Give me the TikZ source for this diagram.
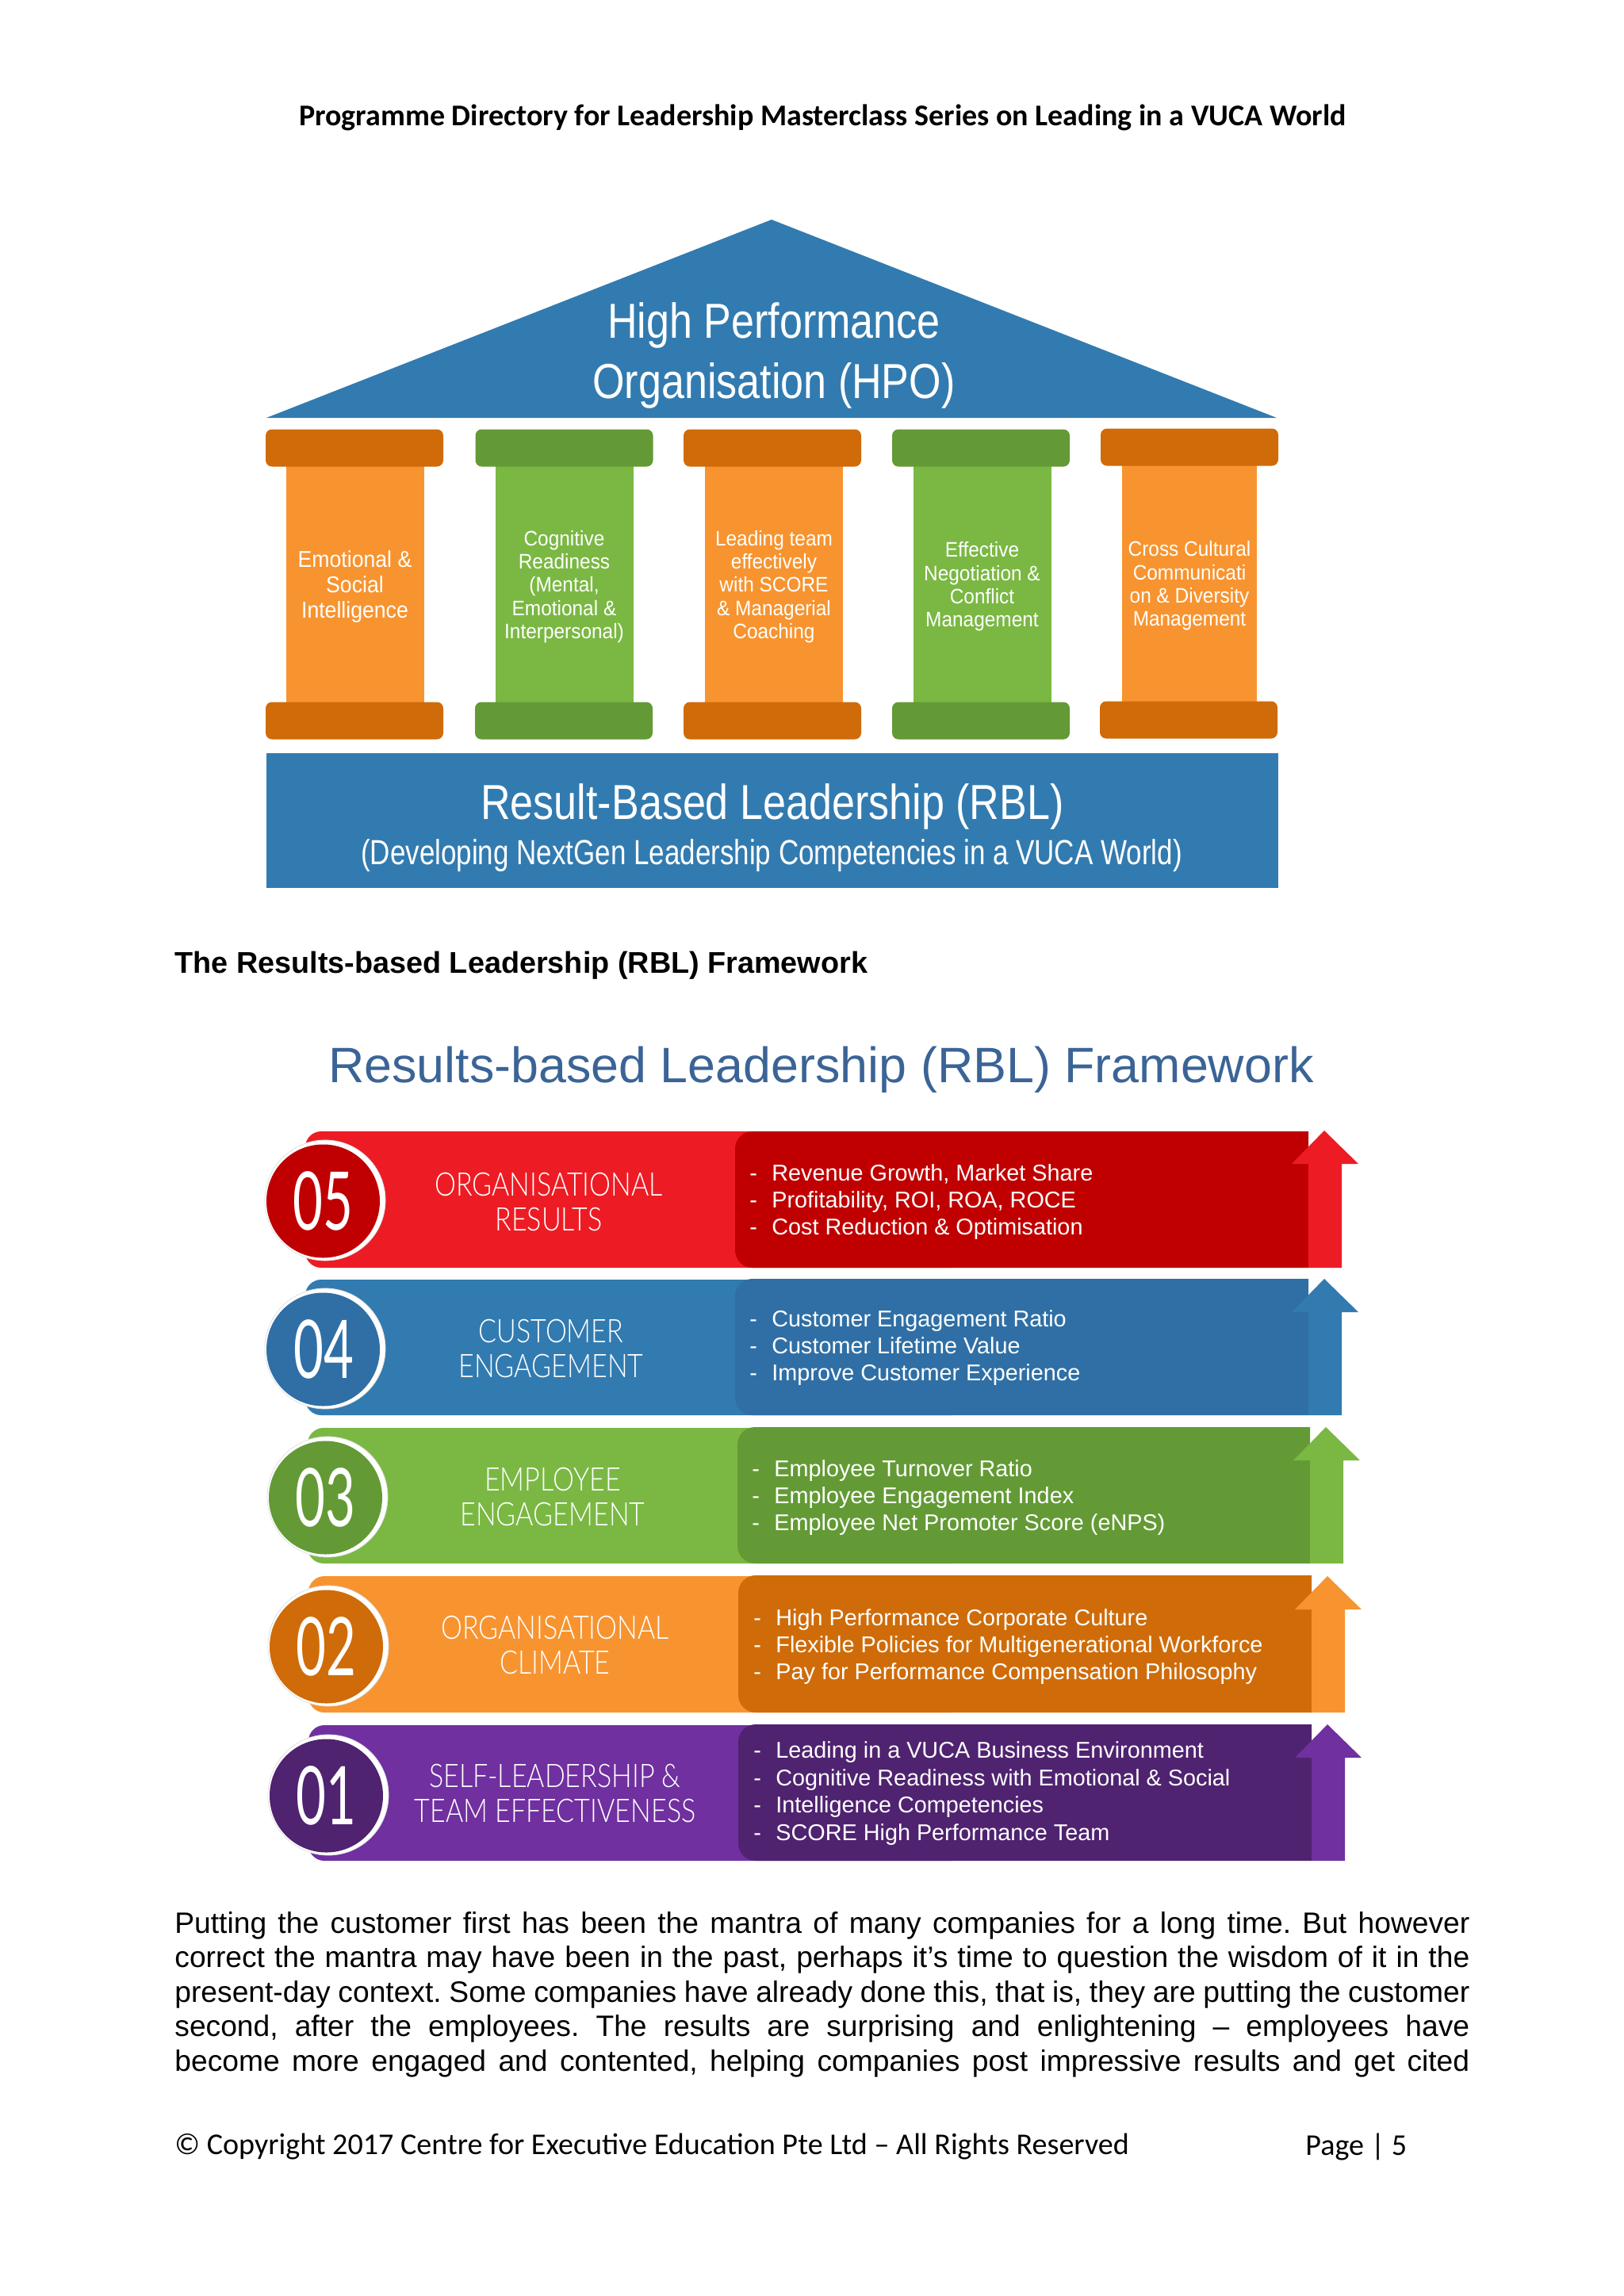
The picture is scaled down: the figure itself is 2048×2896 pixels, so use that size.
\documentclass[tikz,border=0pt]{standalone}
\usepackage{fontspec}
\setmainfont{Liberation Sans}
\newfontfamily\headfont{Carlito}
\newfontfamily\tallfont[FakeStretch=0.84]{Liberation Sans}
\newfontfamily\subfont[FakeStretch=0.795]{Liberation Sans}
\newfontfamily\pillarfont[FakeStretch=0.925]{Liberation Sans}
\newfontfamily\bandfont[FakeStretch=0.83]{Lato Light}
\newfontfamily\numfont[FakeStretch=0.64]{Lato}
\definecolor{roofblue}{HTML}{327BB0}
\definecolor{panelblue}{HTML}{2F6FA5}
\definecolor{oranged}{HTML}{F79430}
\definecolor{orangedark}{HTML}{CF6C09}
\definecolor{greenl}{HTML}{7AB843}
\definecolor{greendark}{HTML}{639A35}
\definecolor{redl}{HTML}{ED1C24}
\definecolor{reddark}{HTML}{C00000}
\definecolor{purplel}{HTML}{7030A0}
\definecolor{purpledark}{HTML}{4F2370}
\definecolor{titleblue}{HTML}{3B6496}
\newcommand{\itemrow}[1]{\makebox[14pt][l]{-}#1}
\tikzset{
  capbox/.style={rectangle,rounded corners=4pt,inner sep=0pt,minimum width=112pt,minimum height=23.5pt},
  shaftbox/.style={rectangle,inner sep=0pt,minimum width=87pt,minimum height=152pt,text=white,align=center,
    font=\pillarfont\fontsize{13.2}{14.7}\selectfont},
  labeltext/.style={text=white,align=center,font=\bandfont\fontsize{20.5}{22}\selectfont},
  numtext/.style={text=white,font=\numfont\fontsize{51}{51}\selectfont},
  itemtext/.style={text=white,align=left,anchor=west,inner sep=0pt,font=\fontsize{14.4}{17.2}\selectfont},
  ringdisc/.style={circle,fill=white,draw=black!12,line width=0.4pt,minimum size=76pt,inner sep=0pt},
  numdisc/.style={circle,inner sep=0pt,minimum size=71.5pt}
}
\begin{document}
\begin{tikzpicture}[x=0.5pt,y=-0.5pt]
  \path[use as bounding box] (0,0) rectangle (2048,2896);
  \node[font=\headfont\bfseries\fontsize{19}{22}\selectfont] (header) at (1037.5,148) {Programme Directory for Leadership Masterclass Series on Leading in a VUCA World};
  % house
  \fill[roofblue] (973,277) -- (1610,527) -- (336,527) -- cycle;
  \node[text=white,align=center,font=\tallfont\fontsize{31}{38}\selectfont] (hpo) at (976,448) {High Performance\\Organisation (HPO)};
  \node[shaftbox,fill=oranged,font=\pillarfont\fontsize{14.4}{16}\selectfont] (shafta) at (447.5,740) {Emotional \&\\Social\\Intelligence};
  \node[shaftbox,fill=greenl] (shaftb) at (711.5,740) {Cognitive\\Readiness\\(Mental,\\Emotional \&\\Interpersonal)};
  \node[shaftbox,fill=oranged] (shaftc) at (976,740) {Leading team\\effectively\\with SCORE\\\& Managerial\\Coaching};
  \node[shaftbox,fill=greenl] (shaftd) at (1238.5,740) {Effective\\Negotiation \&\\Conflict\\Management};
  \node[shaftbox,fill=oranged,minimum width=85pt] (shafte) at (1500,739) {Cross Cultural\\Communicati\\on \& Diversity\\Management};
  \node[capbox,fill=orangedark] (capa) at (447,565) {};
  \node[capbox,fill=greendark] (capb) at (711.5,565) {};
  \node[capbox,fill=orangedark] (capc) at (974,565) {};
  \node[capbox,fill=greendark] (capd) at (1237,565) {};
  \node[capbox,fill=orangedark] (cape) at (1500,564) {};
  \node[capbox,fill=orangedark] (basa) at (447,909) {};
  \node[capbox,fill=greendark] (basb) at (711,909) {};
  \node[capbox,fill=orangedark] (basc) at (974,909) {};
  \node[capbox,fill=greendark] (basd) at (1237,909) {};
  \node[capbox,fill=orangedark] (base) at (1499,908) {};
  \node[rectangle,fill=roofblue,inner sep=0pt,minimum width=638pt,minimum height=85pt] (rbl) at (973.5,1035) {};
  \node[text=white,font=\tallfont\fontsize{31}{36}\selectfont] (rbltitle) at (974,1017) {Result-Based Leadership (RBL)};
  \node[text=white,font=\subfont\fontsize{22}{26}\selectfont] (rblsub) at (973,1079) {(Developing NextGen Leadership Competencies in a VUCA World)};
  % framework
  \node[anchor=west,inner sep=0pt,font=\bfseries\fontsize{18.9}{22}\selectfont] (section) at (220,1218) {The Results-based Leadership (RBL) Framework};
  \node[text=titleblue,font=\fontsize{31.4}{36}\selectfont] (frametitle) at (1035.5,1349) {Results-based Leadership (RBL) Framework};
  % band 05
  \fill[redl,rounded corners=10pt] (600,1427) -- (385,1427) -- (385,1599) -- (600,1599) [sharp corners] -- (1200,1599) -- (1200,1427) -- cycle;
  \fill[reddark,rounded corners=11pt] (1200,1427) -- (927,1427) -- (927,1599) -- (1200,1599) [sharp corners] -- (1650,1599) -- (1650,1427) -- cycle;
  \fill[redl] (1670,1426) -- (1713,1468) -- (1692,1468) -- (1692,1599) -- (1650,1599) -- (1650,1468) -- (1629,1468) -- cycle;
  \node[ringdisc] (ringe) at (410,1514) {};
  \node[numdisc,fill=reddark] (disce) at (407.5,1515) {};
  \node[numtext] (nume) at (407,1515) {05};
  \node[labeltext] (labele) at (692,1516) {ORGANISATIONAL\\RESULTS};
  \node[itemtext] (itemse) at (945,1516) {\itemrow{Revenue Growth, Market Share}\\\itemrow{Profitability, ROI, ROA, ROCE}\\\itemrow{Cost Reduction \& Optimisation}};
  % band 04
  \fill[roofblue,rounded corners=10pt] (600,1614) -- (385,1614) -- (385,1785) -- (600,1785) [sharp corners] -- (1200,1785) -- (1200,1614) -- cycle;
  \fill[panelblue,rounded corners=11pt] (1200,1613) -- (927,1613) -- (927,1785) -- (1200,1785) [sharp corners] -- (1650,1785) -- (1650,1613) -- cycle;
  \fill[roofblue] (1670,1613) -- (1713,1655) -- (1692,1655) -- (1692,1785) -- (1650,1785) -- (1650,1655) -- (1629,1655) -- cycle;
  \node[ringdisc] (ringd) at (410,1701) {};
  \node[numdisc,fill=panelblue] (discd) at (407.5,1702) {};
  \node[numtext] (numd) at (408,1702) {04};
  \node[labeltext] (labeld) at (695,1701) {CUSTOMER\\ENGAGEMENT};
  \node[itemtext] (itemsd) at (945,1700) {\itemrow{Customer Engagement Ratio}\\\itemrow{Customer Lifetime Value}\\\itemrow{Improve Customer Experience}};
  % band 03
  \fill[greenl,rounded corners=10pt] (600,1801) -- (388,1801) -- (388,1972) -- (600,1972) [sharp corners] -- (1200,1972) -- (1200,1801) -- cycle;
  \fill[greendark,rounded corners=11pt] (1200,1800) -- (930,1800) -- (930,1972) -- (1200,1972) [sharp corners] -- (1652,1972) -- (1652,1800) -- cycle;
  \fill[greenl] (1672,1800) -- (1715,1842) -- (1694,1842) -- (1694,1972) -- (1652,1972) -- (1652,1842) -- (1631,1842) -- cycle;
  \node[ringdisc] (ringc) at (413,1888) {};
  \node[numdisc,fill=greendark] (discc) at (410.5,1889) {};
  \node[numtext] (numc) at (410,1889) {03};
  \node[labeltext] (labelc) at (697,1888) {EMPLOYEE\\ENGAGEMENT};
  \node[itemtext] (itemsc) at (948,1889) {\itemrow{Employee Turnover Ratio}\\\itemrow{Employee Engagement Index}\\\itemrow{Employee Net Promoter Score (eNPS)}};
  % band 02
  \fill[oranged,rounded corners=10pt] (600,1988) -- (389,1988) -- (389,2160) -- (600,2160) [sharp corners] -- (1200,2160) -- (1200,1988) -- cycle;
  \fill[orangedark,rounded corners=11pt] (1200,1987) -- (931,1987) -- (931,2160) -- (1200,2160) [sharp corners] -- (1654,2160) -- (1654,1987) -- cycle;
  \fill[oranged] (1674,1988) -- (1717,2030) -- (1696,2030) -- (1696,2160) -- (1654,2160) -- (1654,2030) -- (1633,2030) -- cycle;
  \node[ringdisc] (ringb) at (414,2076) {};
  \node[numdisc,fill=orangedark] (discb) at (411.5,2077) {};
  \node[numtext] (numb) at (411,2077) {02};
  \node[labeltext] (labelb) at (700,2075) {ORGANISATIONAL\\CLIMATE};
  \node[itemtext] (itemsb) at (950,2077) {\itemrow{High Performance Corporate Culture}\\\itemrow{Flexible Policies for Multigenerational Workforce}\\\itemrow{Pay for Performance Compensation Philosophy}};
  % band 01
  \fill[purplel,rounded corners=10pt] (600,2176) -- (389,2176) -- (389,2347) -- (600,2347) [sharp corners] -- (1200,2347) -- (1200,2176) -- cycle;
  \fill[purpledark,rounded corners=11pt] (1200,2175) -- (931,2175) -- (931,2347) -- (1200,2347) [sharp corners] -- (1654,2347) -- (1654,2175) -- cycle;
  \fill[purplel] (1674,2175) -- (1717,2217) -- (1696,2217) -- (1696,2347) -- (1654,2347) -- (1654,2217) -- (1633,2217) -- cycle;
  \node[ringdisc] (ringa) at (414,2264) {};
  \node[numdisc,fill=purpledark] (disca) at (411.5,2265) {};
  \node[numtext] (numa) at (411,2265) {01};
  \node[labeltext] (labela) at (700,2262) {SELF-LEADERSHIP \&\\TEAM EFFECTIVENESS};
  \node[itemtext] (itemsa) at (950,2262) {\itemrow{Leading in a VUCA Business Environment}\\\itemrow{Cognitive Readiness with Emotional \& Social}\\\itemrow{}Intelligence Competencies\\\itemrow{SCORE High Performance Team}};
  % text below
  \node[anchor=north west,inner sep=0pt,text width=816.5pt,align=justify,font=\fontsize{18.6}{21.75}\selectfont] (bodytext) at (220,2411) {\parfillskip=0pt\hyphenpenalty=10000\frenchspacing Putting the customer first has been the mantra of many companies for a long time. But however\linebreak correct the mantra may have been in the past, perhaps it’s time to question the wisdom of it in the\linebreak present-day context. Some companies have already done this, that is, they are putting the customer\linebreak second, after the employees. The results are surprising and enlightening – employees have\linebreak become more engaged and contented, helping companies post impressive results and get cited\par};
  \node[anchor=west,inner sep=0pt,font=\headfont\fontsize{19.05}{22}\selectfont] (footer) at (220,2708) {© Copyright 2017 Centre for Executive Education Pte Ltd – All Rights Reserved};
  \node[anchor=west,inner sep=0pt,font=\headfont\fontsize{19.05}{22}\selectfont] (pagenum) at (1646,2708) {Page | 5};
\end{tikzpicture}
\end{document}
